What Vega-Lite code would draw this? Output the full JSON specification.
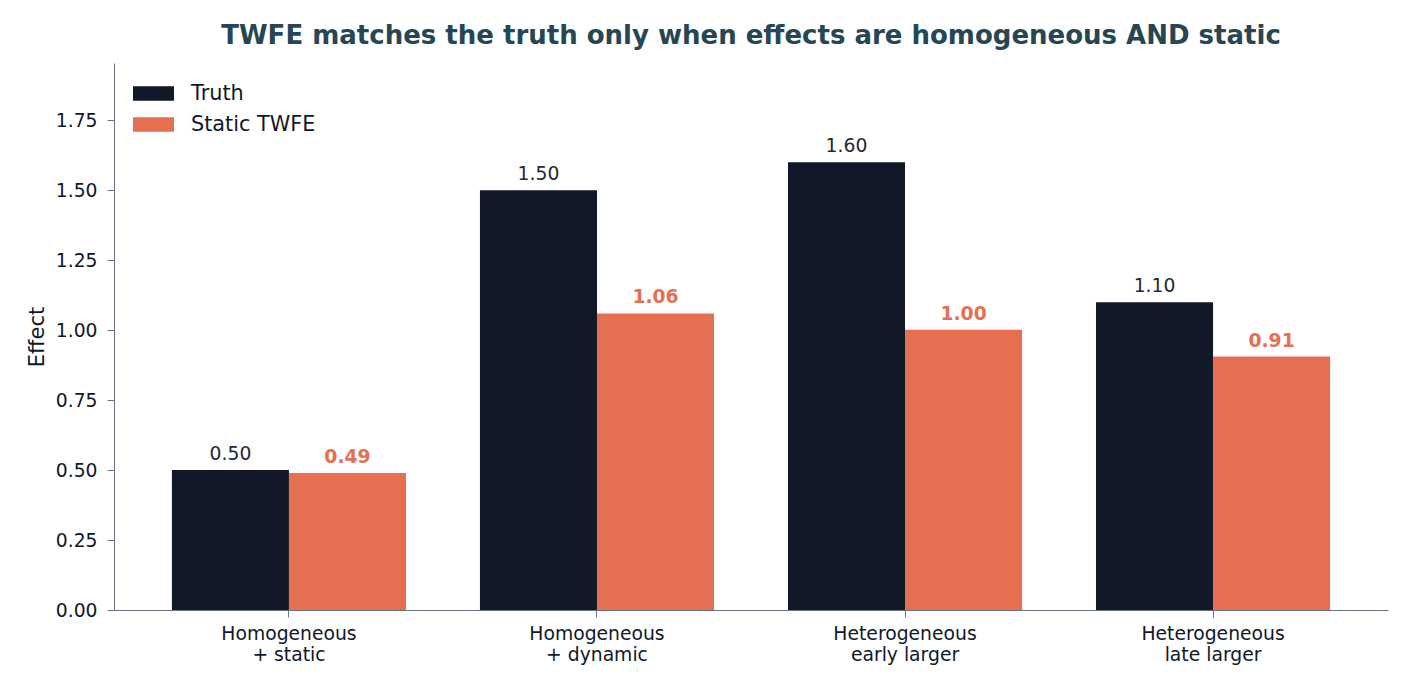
{
  "$schema": "https://vega.github.io/schema/vega-lite/v6.json",
  "width": 1274,
  "height": 547,
  "autosize": "none",
  "padding": {"left": 114, "top": 63, "right": 22, "bottom": 80},
  "background": "white",
  "title": {
    "text": "TWFE matches the truth only when effects are homogeneous AND static",
    "font": "DejaVu Sans",
    "fontSize": 26,
    "fontWeight": "bold",
    "color": "#264653",
    "anchor": "middle",
    "offset": 14
  },
  "config": {
    "view": {"stroke": null},
    "font": "DejaVu Sans",
    "axis": {
      "domainColor": "#6b7280",
      "tickColor": "#6b7280",
      "labelColor": "#111827",
      "titleColor": "#111827",
      "labelFont": "DejaVu Sans",
      "titleFont": "DejaVu Sans",
      "grid": false
    }
  },
  "data": {
    "values": [
      {"scenario": "Homogeneous\n+ static", "series": "Truth", "effect": 0.5, "label": "0.50"},
      {"scenario": "Homogeneous\n+ static", "series": "Static TWFE", "effect": 0.49, "label": "0.49"},
      {"scenario": "Homogeneous\n+ dynamic", "series": "Truth", "effect": 1.5, "label": "1.50"},
      {"scenario": "Homogeneous\n+ dynamic", "series": "Static TWFE", "effect": 1.06, "label": "1.06"},
      {"scenario": "Heterogeneous\nearly larger", "series": "Truth", "effect": 1.6, "label": "1.60"},
      {"scenario": "Heterogeneous\nearly larger", "series": "Static TWFE", "effect": 1.002, "label": "1.00"},
      {"scenario": "Heterogeneous\nlate larger", "series": "Truth", "effect": 1.1, "label": "1.10"},
      {"scenario": "Heterogeneous\nlate larger", "series": "Static TWFE", "effect": 0.906, "label": "0.91"}
    ]
  },
  "encoding": {
    "x": {
      "field": "scenario",
      "type": "nominal",
      "sort": null,
      "scale": {"paddingInner": 0.24, "paddingOuter": 0.188},
      "axis": {
        "title": null,
        "labelAngle": 0,
        "labelExpr": "split(datum.label, '\\n')",
        "labelFontSize": 18.75,
        "labelLineHeight": 21,
        "labelPadding": 7,
        "tickSize": 7
      }
    },
    "xOffset": {
      "field": "series",
      "type": "nominal",
      "scale": {"domain": ["Truth", "Static TWFE"], "paddingInner": 0, "paddingOuter": 0}
    },
    "y": {
      "field": "effect",
      "type": "quantitative",
      "scale": {"domain": [0, 1.955], "nice": false},
      "axis": {
        "title": "Effect",
        "titleFontSize": 21,
        "titleFontWeight": "normal",
        "titlePadding": 8,
        "values": [0, 0.25, 0.5, 0.75, 1.0, 1.25, 1.5, 1.75],
        "format": ".2f",
        "labelFontSize": 18.75,
        "labelPadding": 10,
        "tickSize": 7
      }
    },
    "color": {
      "field": "series",
      "type": "nominal",
      "scale": {"domain": ["Truth", "Static TWFE"], "range": ["#111827", "#E76F51"]},
      "legend": {
        "title": null,
        "orient": "none",
        "legendX": 19,
        "legendY": 10,
        "symbolType": "M-1,-0.35H1V0.35H-1Z",
        "symbolSize": 1681,
        "symbolStrokeWidth": 0,
        "labelFontSize": 20.8,
        "labelColor": "#111827",
        "labelOffset": 17,
        "rowPadding": -1
      }
    }
  },
  "layer": [
    {"mark": {"type": "bar"}},
    {
      "transform": [{"filter": "datum.series === 'Truth'"}],
      "mark": {"type": "text", "baseline": "alphabetic", "dy": -10, "fontSize": 18.75},
      "encoding": {"text": {"field": "label"}, "color": {"value": "#1f2937"}}
    },
    {
      "transform": [{"filter": "datum.series === 'Static TWFE'"}],
      "mark": {"type": "text", "baseline": "alphabetic", "dy": -10, "fontSize": 18.75, "fontWeight": "bold"},
      "encoding": {"text": {"field": "label"}, "color": {"value": "#E76F51"}}
    }
  ]
}
